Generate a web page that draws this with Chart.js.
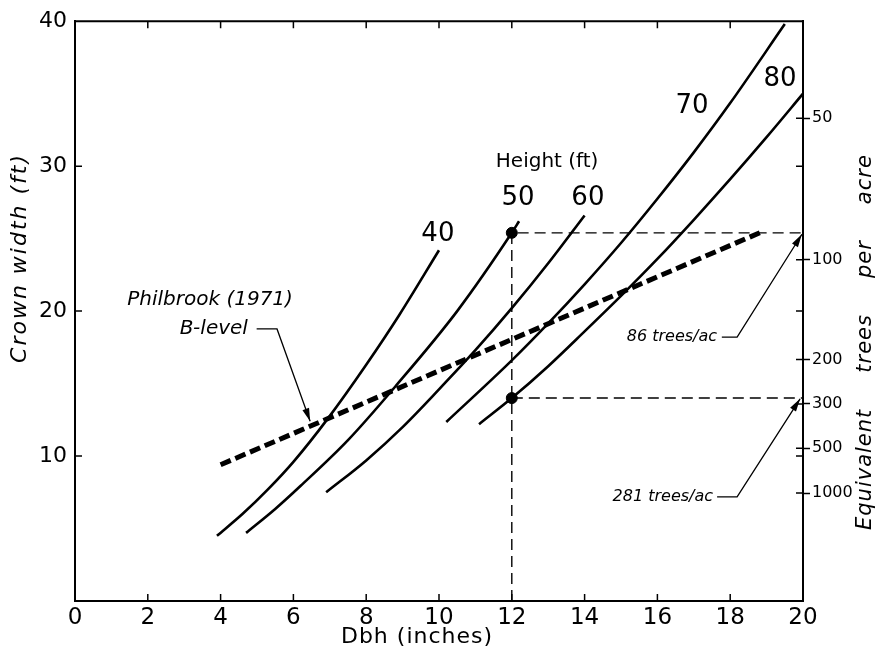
<!DOCTYPE html>
<html>
<head>
<meta charset="utf-8">
<script src="https://cdn.jsdelivr.net/npm/chart.js@4.4.1/dist/chart.umd.min.js"></script>
<style>
  body { margin: 0; background: #fff; }
  #wrap { width: 877px; height: 656px; }
</style>
</head>
<body>
<div id="wrap"><canvas id="crownChart"></canvas></div>
<script>
// crown width (ft) against dbh (in) for each tree height
const dbh40 = [3.9, 4.6, 5.3, 6.0, 6.95, 8.0, 8.9, 10.0]
const cw40 = [4.5, 6.0, 7.7, 9.6, 12.6, 16.3, 19.7, 24.2]
const dbh50 = [4.7, 5.5, 6.2, 7.5, 8.8, 10.5, 12.0, 12.2]
const cw50 = [4.7, 6.35, 7.95, 11.1, 14.8, 20.0, 25.4, 26.2]
const dbh60 = [6.9, 8.0, 9.0, 10.0, 11.0, 12.0, 13.0, 14.0]
const cw60 = [7.5, 9.7, 12.0, 14.6, 17.3, 20.2, 23.3, 26.6]
const dbh70 = [10.2, 12.0, 13.0, 14.0, 15.0, 16.0, 17.0, 18.0, 19.5]
const cw70 = [12.35, 16.6, 19.15, 21.85, 24.7, 27.75, 30.95, 34.35, 39.8]
const dbh80 = [11.1, 12.0, 13.0, 14.0, 15.0, 16.0, 17.0, 18.0, 19.0, 20.0]
const cw80 = [12.2, 14.0, 16.2, 18.6, 21.05, 23.6, 26.3, 29.1, 32.0, 35.0]

// Philbrook (1971) B-level
const philbrookDbh = [4.0, 18.9]
const philbrookCw = [9.4, 25.5]

// worked example at 12 in dbh
const exampleDbh = 12
const exampleCw = [25.4, 14.0]
const exampleTpa = ['86 trees/ac', '281 trees/ac']

const xTicks = [0, 2, 4, 6, 8, 10, 12, 14, 16, 18, 20]
const yTicks = [10, 20, 30, 40]
const tpaTicks = [50, 100, 200, 300, 500, 1000]
const heightLabels = ['40', '50', '60', '70', '80']

const FONT = 'DejaVu Sans'

// open-grown crown area -> trees per acre
function crownForTpa(tpa) {
    return Math.sqrt(43560 * 4 / (Math.PI * tpa))
}

function pts(xs, ys) {
    return xs.map((x, i) => ({ x: x, y: ys[i] }))
}

function curve(xs, ys) {
    return {
        data: pts(xs, ys), showLine: true, borderColor: '#000', borderWidth: 2.6,
        pointRadius: 0, cubicInterpolationMode: 'monotone'
    }
}

function arrow(ctx, x, y, points) {
    const p = points.map(q => [x.getPixelForValue(q[0]), y.getPixelForValue(q[1])])
    ctx.lineWidth = 1.3
    ctx.beginPath()
    ctx.moveTo(p[0][0], p[0][1])
    p.slice(1).forEach(q => ctx.lineTo(q[0], q[1]))
    ctx.stroke()
    const [tx, ty] = p[p.length - 1]
    const [fx, fy] = p[p.length - 2]
    const ang = Math.atan2(ty - fy, tx - fx)
    ctx.beginPath()
    ctx.moveTo(tx, ty)
    ctx.lineTo(tx - 13 * Math.cos(ang) + 3.5 * Math.sin(ang), ty - 13 * Math.sin(ang) - 3.5 * Math.cos(ang))
    ctx.lineTo(tx - 13 * Math.cos(ang) - 3.5 * Math.sin(ang), ty - 13 * Math.sin(ang) + 3.5 * Math.cos(ang))
    ctx.closePath()
    ctx.fill()
}

const figureText = {
    id: 'figureText',
    afterDatasetsDraw(chart) {
        const { ctx, chartArea: a, scales: { x, y, y2 } } = chart
        ctx.save()
        ctx.strokeStyle = '#000'
        ctx.fillStyle = '#000'

        // top frame line and inward ticks
        ctx.lineWidth = 2
        ctx.beginPath()
        ctx.moveTo(a.left, a.top)
        ctx.lineTo(a.right, a.top)
        ctx.stroke()
        ctx.lineWidth = 1.5
        ctx.beginPath()
        xTicks.slice(1, -1).forEach(v => {
            const px = x.getPixelForValue(v)
            ctx.moveTo(px, a.top); ctx.lineTo(px, a.top + 7)
            ctx.moveTo(px, a.bottom); ctx.lineTo(px, a.bottom - 7)
        })
        yTicks.slice(0, -1).forEach(v => {
            const py = y.getPixelForValue(v)
            ctx.moveTo(a.left, py); ctx.lineTo(a.left + 7, py)
            ctx.moveTo(a.right, py); ctx.lineTo(a.right - 7, py)
        })
        tpaTicks.forEach(t => {
            const py = y2.getPixelForValue(crownForTpa(t))
            ctx.moveTo(a.right, py); ctx.lineTo(a.right - 7, py)
        })
        ctx.stroke()

        // height labels
        const labelX = [9.97, 12.17, 14.09, 16.95, 19.37]
        const labelY = [25.3, 27.8, 27.8, 34.1, 36.0]
        ctx.textAlign = 'center'
        ctx.textBaseline = 'middle'
        ctx.font = `26px "${FONT}"`
        heightLabels.forEach((t, i) => ctx.fillText(t, x.getPixelForValue(labelX[i]), y.getPixelForValue(labelY[i])))
        ctx.font = `20px "${FONT}"`
        ctx.fillText('Height (ft)', x.getPixelForValue(12.97), y.getPixelForValue(30.3))

        // Philbrook label + leader
        ctx.font = `italic 20px "${FONT}"`
        ctx.fillText('Philbrook (1971)', x.getPixelForValue(3.71), y.getPixelForValue(20.8))
        ctx.textAlign = 'right'
        ctx.fillText('B-level', x.getPixelForValue(4.75), y.getPixelForValue(18.77))
        arrow(ctx, x, y, [[4.99, 18.77], [5.55, 18.77], [6.46, 12.4]])

        // trees per acre call-outs
        ctx.font = `italic 16px "${FONT}"`
        ctx.fillText(exampleTpa[0], x.getPixelForValue(17.64), y.getPixelForValue(18.2))
        arrow(ctx, x, y, [[17.77, 18.2], [18.19, 18.2], [19.97, exampleCw[0] - 0.1]])
        ctx.fillText(exampleTpa[1], x.getPixelForValue(17.53), y.getPixelForValue(7.19))
        arrow(ctx, x, y, [[17.64, 7.19], [18.19, 7.19], [19.92, exampleCw[1] - 0.05]])

        // axis titles
        ctx.textAlign = 'center'
        ctx.font = `22px "${FONT}"`
        ctx.letterSpacing = '1px'
        ctx.fillText('Dbh (inches)', 417, 637)

        ctx.font = `italic 22px "${FONT}"`
        ctx.letterSpacing = '2px'
        ctx.translate(20, 258)
        ctx.rotate(-Math.PI / 2)
        ctx.fillText('Crown width (ft)', 0, 0)
        ctx.setTransform(1, 0, 0, 1, 0, 0)

        ctx.font = `italic 21px "${FONT}"`
        ctx.letterSpacing = '1px'
        ctx.translate(866, 530)
        ctx.rotate(-Math.PI / 2)
        ctx.textAlign = 'left'
        let pos = 0
        ;['Equivalent', 'trees', 'per', 'acre'].forEach(w => {
            ctx.fillText(w, pos, 0)
            pos += ctx.measureText(w).width + 36
        })
        ctx.restore()
    }
}

const ctx = document.getElementById('crownChart').getContext('2d')
const crownChart = new Chart(ctx, {
    type: 'scatter',
    data: {
        datasets: [
            curve(dbh40, cw40),
            curve(dbh50, cw50),
            curve(dbh60, cw60),
            curve(dbh70, cw70),
            curve(dbh80, cw80),
            {
                data: pts(philbrookDbh, philbrookCw), showLine: true, borderColor: '#000',
                borderWidth: 5, borderDash: [11, 5], pointRadius: 0
            },
            {
                data: [{ x: exampleDbh, y: 0 }, { x: exampleDbh, y: exampleCw[0] }, { x: 20, y: exampleCw[0] }],
                showLine: true, borderColor: '#000', borderWidth: 1.4, borderDash: [11, 6], pointRadius: 0
            },
            {
                data: [{ x: exampleDbh, y: exampleCw[1] }, { x: 20, y: exampleCw[1] }],
                showLine: true, borderColor: '#000', borderWidth: 1.4, borderDash: [11, 6], pointRadius: 0
            },
            {
                data: exampleCw.map(c => ({ x: exampleDbh, y: c })),
                pointRadius: 5.5, pointBackgroundColor: '#000', pointBorderColor: '#000'
            }
        ]
    },
    options: {
        responsive: true,
        maintainAspectRatio: false,
        animation: false,
        layout: { padding: { top: 17 } },
        plugins: { legend: { display: false }, tooltip: { enabled: false } },
        scales: {
            x: {
                type: 'linear', min: 0, max: 20,
                afterBuildTicks: scale => { scale.ticks = xTicks.map(v => ({ value: v })) },
                afterFit: scale => { scale.height = 55 },
                grid: { drawOnChartArea: false, drawTicks: false },
                border: { color: '#000', width: 2 },
                ticks: { color: '#000', font: { family: FONT, size: 23 }, padding: 3, autoSkip: false, maxRotation: 0 }
            },
            y: {
                type: 'linear', min: 0, max: 40,
                afterBuildTicks: scale => { scale.ticks = yTicks.map(v => ({ value: v })) },
                afterFit: scale => { scale.width = 75 },
                grid: { drawOnChartArea: false, drawTicks: false },
                border: { color: '#000', width: 2 },
                ticks: { color: '#000', font: { family: FONT, size: 22 }, padding: 8, autoSkip: false }
            },
            y2: {
                type: 'linear', position: 'right', min: 0, max: 40,
                afterBuildTicks: scale => { scale.ticks = tpaTicks.map(t => ({ value: crownForTpa(t) })) },
                afterFit: scale => { scale.width = 74 },
                grid: { drawOnChartArea: false, tickLength: 7, tickColor: '#000', tickWidth: 1.5 },
                border: { color: '#000', width: 2 },
                ticks: {
                    color: '#000', font: { family: FONT, size: 16 }, padding: 2, autoSkip: false,
                    callback: (v, i) => tpaTicks[i]
                }
            }
        }
    },
    plugins: [figureText]
})
</script>
</body>
</html>
